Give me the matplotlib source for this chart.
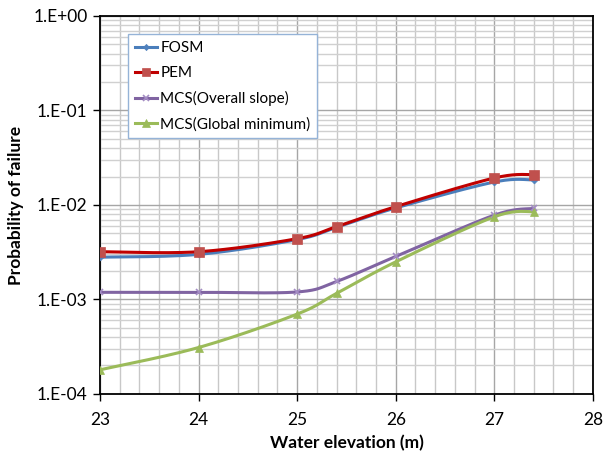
import numpy as np
import matplotlib.pyplot as plt
from matplotlib.ticker import FixedLocator, LogLocator, NullFormatter, FuncFormatter
from matplotlib.lines import Line2D

# Data
elevation = [23, 24, 25, 25.4, 26, 27, 27.4]
fosm = [2.8e-3, 3.0e-3, 4.3e-3, 5.8e-3, 9.3e-3, 1.75e-2, 1.84e-2]
pem = [3.2e-3, 3.2e-3, 4.4e-3, 5.9e-3, 9.6e-3, 1.93e-2, 2.1e-2]
mcs_overall = [1.19e-3, 1.19e-3, 1.2e-3, 1.55e-3, 2.85e-3, 7.8e-3, 9.2e-3]
mcs_global = [1.8e-4, 3.1e-4, 7.0e-4, 1.16e-3, 2.5e-3, 7.5e-3, 8.5e-3]
labels = ['FOSM', 'PEM', 'MCS(Overall slope)', 'MCS(Global minimum)']

plt.rcParams['font.family'] = ['Lato', 'DejaVu Sans']


def smooth(x, y, n=30):
    # Excel-like smoothed line: Catmull-Rom bezier in (x, log y)
    x = np.asarray(x, float)
    ly = np.log10(np.asarray(y, float))
    P = np.column_stack([x, ly])
    out = []
    for i in range(len(P) - 1):
        p0 = P[i - 1] if i > 0 else P[i]
        p1, p2 = P[i], P[i + 1]
        p3 = P[i + 2] if i + 2 < len(P) else P[i + 1]
        c1 = p1 + (p2 - p0) / 6
        c2 = p2 - (p3 - p1) / 6
        t = np.linspace(0, 1, n)[:, None]
        seg = ((1 - t) ** 3) * p1 + 3 * ((1 - t) ** 2) * t * c1 + 3 * (1 - t) * t ** 2 * c2 + t ** 3 * p2
        out.append(seg if i == 0 else seg[1:])
    s = np.vstack(out)
    return s[:, 0], 10 ** s[:, 1]


fig = plt.figure(figsize=(6.04, 4.57), dpi=100)
ax = fig.add_axes([0.1656, 0.138, 0.816, 0.827])

series = [
    (fosm, '#4A7EBB', '#4F81BD', 'D', 3.5),
    (pem, '#C00000', '#C0504D', 's', 7),
    (mcs_overall, '#8064A2', '#A48DC4', 'x', 5),
    (mcs_global, '#9BBB59', '#9BBB59', '^', 6),
]
handles = []
for (vals, lc, mc, mk, ms), lab in zip(series, labels):
    sx, sy = smooth(elevation, vals)
    ax.plot(sx, sy, color=lc, lw=2.2, zorder=3)
    ax.plot(elevation, vals, ls='none', marker=mk, ms=ms, color=mc, mec=mc,
            mew=1.2 if mk == 'x' else 0.5, zorder=4)
    handles.append(Line2D([], [], color=lc, lw=2.2, marker=mk, ms=ms * 0.9,
                          mfc=mc, mec=mc, mew=1.2 if mk == 'x' else 0.5))

ax.set_yscale('log')
ax.set_ylim(1e-4, 1)
ax.set_xlim(23, 28)
ax.xaxis.set_major_locator(FixedLocator([23, 24, 25, 26, 27, 28]))
ax.xaxis.set_minor_locator(FixedLocator(np.arange(23, 28.01, 0.2)))
ax.yaxis.set_major_locator(LogLocator(base=10, numticks=10))
ax.yaxis.set_minor_locator(LogLocator(base=10, subs=np.arange(2, 10), numticks=10))
ax.yaxis.set_minor_formatter(NullFormatter())
ax.yaxis.set_major_formatter(FuncFormatter(lambda v, p: '1.E%+03d' % round(np.log10(v))))

ax.grid(True, which='major', color='#A6A6A6', lw=1.0, zorder=0)
ax.grid(True, which='minor', axis='y', color='#D0D0D0', lw=1.0, zorder=0)
ax.grid(True, which='minor', axis='x', color='#C8C8C8', lw=1.0, zorder=0)
ax.set_axisbelow(True)

ax.tick_params(which='major', direction='out', length=5, width=1, labelsize=12.5, colors='black', pad=4)
ax.tick_params(which='minor', length=0)
ax.tick_params(axis='x', pad=8)
for sp in ax.spines.values():
    sp.set_color('black')
    sp.set_linewidth(1.3)

ax.set_xlabel('Water elevation (m)', fontsize=12.5, fontweight='bold', labelpad=5)
ax.set_ylabel('Probability of failure', fontsize=12.5, fontweight='bold', labelpad=7)

leg = ax.legend(handles, labels, loc='upper left', bbox_to_anchor=(0.057, 0.952),
                fontsize=11, frameon=True, fancybox=False, handlelength=1.45,
                handletextpad=0.2, labelspacing=0.72, borderpad=0.45, borderaxespad=0)
leg.get_frame().set_edgecolor('#95B3D7')
leg.get_frame().set_linewidth(1.0)
leg.get_frame().set_alpha(1)

fig.savefig('out.png', dpi=100)
